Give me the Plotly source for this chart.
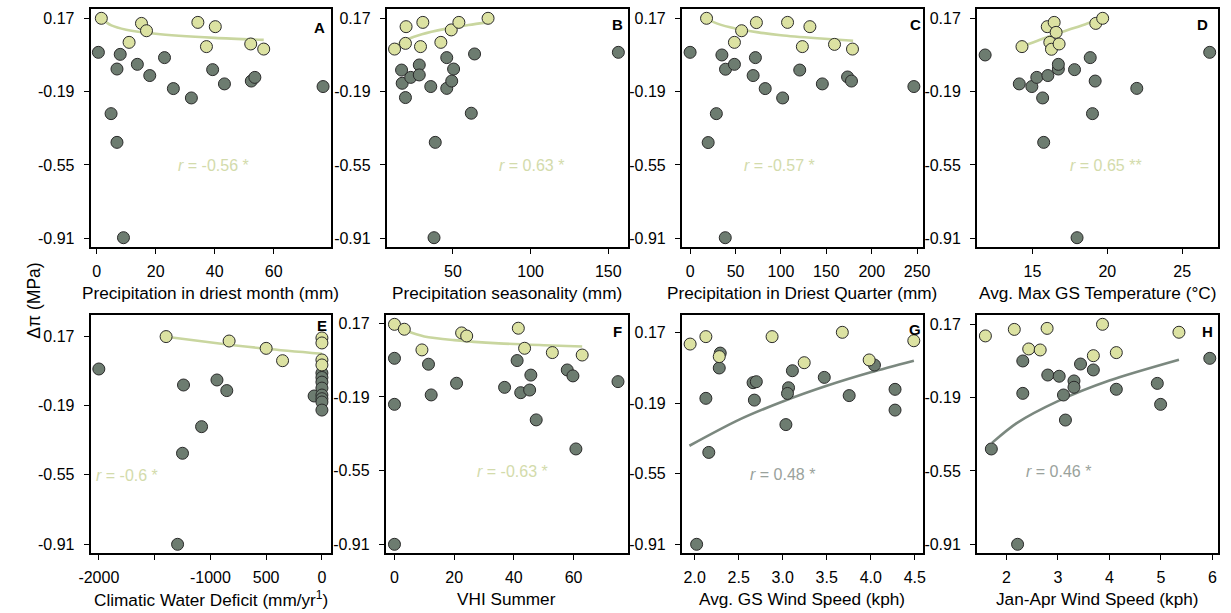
import plotly.graph_objects as go

W, H = 1231, 613

# ---------------- data: Δπ (MPa) against eight site variables ----------------
# light = group 1 (fitted in A–F), dark = group 2 (fitted in G–H)

# A: precipitation in driest month (mm)
a_light_x = [1.6, 15.2, 16.9, 11.0, 34.3, 40.2, 37.2, 52.2, 56.6]
a_light_y = [0.170, 0.145, 0.109, 0.052, 0.150, 0.129, 0.031, 0.044, 0.019]
a_dark_x = [0.6, 8.0, 6.9, 13.8, 18.0, 23.0, 26.0, 32.1, 39.3, 43.3, 52.4, 53.6, 76.7, 4.9, 6.9, 9.1]
a_dark_y = [0.003, -0.007, -0.079, -0.056, -0.111, -0.023, -0.175, -0.221, -0.082, -0.152,
            -0.138, -0.120, -0.165, -0.298, -0.439, -0.907]
a_trend_x = [1.6, 5, 10, 20, 40, 56.6]
a_trend_y = [0.167, 0.135, 0.114, 0.094, 0.074, 0.064]
a_label = "<i>r</i> = -0.56 *"

# B: precipitation seasonality (mm)
b_light_x = [12.4, 19.8, 19.4, 30.6, 29.1, 42.2, 48.9, 53.8, 72.6]
b_light_y = [0.019, 0.129, 0.047, 0.150, 0.031, 0.052, 0.113, 0.150, 0.170]
b_dark_x = [16.9, 17.3, 19.4, 22.8, 28.3, 28.3, 35.7, 46.0, 46.0, 50.4, 49.2, 63.9, 61.8, 38.6, 37.8, 156.5]
b_dark_y = [-0.084, -0.149, -0.219, -0.120, -0.059, -0.108, -0.165, -0.174, -0.023, -0.079,
            -0.138, -0.005, -0.296, -0.439, -0.907, 0.003]
b_trend_x = [12.4, 20, 30, 45, 60, 72.6]
b_trend_y = [0.034, 0.065, 0.092, 0.118, 0.137, 0.150]
b_label = "<i>r</i> = 0.63 *"

# C: precipitation in driest quarter (mm)
c_light_x = [18.1, 56.7, 48.8, 73.0, 107.3, 131.9, 123.6, 159.0, 178.8]
c_light_y = [0.170, 0.109, 0.052, 0.149, 0.150, 0.129, 0.031, 0.042, 0.019]
c_dark_x = [0.0, 35.0, 39.0, 48.8, 71.9, 69.4, 82.7, 101.9, 120.7, 145.6, 173.4, 177.7, 246.4, 28.9, 19.9, 38.7]
c_dark_y = [0.003, -0.010, -0.080, -0.056, -0.023, -0.111, -0.175, -0.221, -0.084, -0.152,
            -0.118, -0.138, -0.165, -0.298, -0.440, -0.907]
c_trend_x = [18.1, 30, 50, 75, 100, 140, 179.5]
c_trend_y = [0.167, 0.144, 0.120, 0.101, 0.087, 0.072, 0.060]
c_label = "<i>r</i> = -0.57 *"

# D: average maximum growing-season temperature (°C)
d_light_x = [14.3, 15.99, 16.45, 16.58, 16.16, 16.27, 16.78, 19.23, 19.69]
d_light_y = [0.031, 0.129, 0.150, 0.101, 0.052, 0.018, 0.044, 0.145, 0.170]
d_dark_x = [11.84, 14.12, 14.96, 15.29, 16.03, 15.68, 16.73, 16.73, 17.81, 18.86, 19.19, 21.97,
            19.01, 15.75, 17.98, 26.84]
d_dark_y = [-0.010, -0.152, -0.165, -0.120, -0.111, -0.221, -0.079, -0.056, -0.082, -0.023,
            -0.138, -0.174, -0.298, -0.439, -0.907, 0.003]
d_trend_x = [14.3, 15.5, 17.0, 18.5, 19.69]
d_trend_y = [0.031, 0.065, 0.104, 0.140, 0.170]
d_label = "<i>r</i> = 0.65 **"

# E: climatic water deficit (mm/yr)
e_light_x = [-1397, -832, -500, -353, 0, 0, 0, 0]
e_light_y = [0.167, 0.144, 0.106, 0.042, 0.160, 0.134, 0.046, 0.020]
e_dark_x = [-2000, -1241, -941, -853, -1079, -1250, -1294, -70, 0, 0, 0, 0, 0, 0, 0, 0]
e_dark_y = [-0.001, -0.084, -0.058, -0.113, -0.300, -0.438, -0.910, -0.141,
            -0.022, -0.045, -0.069, -0.100, -0.136, -0.155, -0.172, -0.214]
e_trend_x = [-1397, -956, -500, 0]
e_trend_y = [0.166, 0.134, 0.104, 0.078]
e_label = "<i>r</i> = -0.6 *"

# F: VHI summer
f_light_x = [0.0, 3.3, 22.5, 24.2, 9.2, 41.5, 43.6, 52.9, 62.9]
f_light_y = [0.165, 0.141, 0.123, 0.108, 0.040, 0.146, 0.048, 0.027, 0.015]
f_dark_x = [0.0, 0.0, 0.0, 11.4, 12.3, 20.8, 36.9, 41.1, 42.3, 45.3, 45.7, 47.5, 57.9, 59.8, 60.8, 74.9]
f_dark_y = [-0.001, -0.226, -0.910, -0.030, -0.180, -0.123, -0.143, -0.012, -0.169, -0.156,
            -0.083, -0.302, -0.058, -0.087, -0.444, -0.115]
f_trend_x = [3.3, 10, 20, 35, 50, 62.9]
f_trend_y = [0.136, 0.106, 0.088, 0.072, 0.063, 0.057]
f_label = "<i>r</i> = -0.63 *"

# G: average growing-season wind speed (kph)
g_light_x = [1.948, 2.127, 2.879, 3.677, 3.244, 2.279, 3.982, 4.489]
g_light_y = [0.112, 0.150, 0.150, 0.172, 0.017, 0.048, 0.031, 0.129]
g_dark_x = [2.290, 2.279, 2.127, 2.160, 2.022, 2.663, 2.700, 2.678, 3.066, 3.054, 3.110, 3.036,
            3.472, 3.755, 4.042, 4.276, 4.276]
g_dark_y = [0.066, -0.010, -0.165, -0.441, -0.910, -0.085, -0.080, -0.174, -0.111, -0.140,
            -0.024, -0.299, -0.058, -0.151, 0.005, -0.119, -0.225]
g_trend_x = [1.94, 2.5, 3.0, 3.5, 4.0, 4.49]
g_trend_y = [-0.407, -0.275, -0.181, -0.101, -0.032, 0.027]
g_label = "<i>r</i> = 0.48 *"

# H: January–April wind speed (kph)
h_light_x = [1.592, 2.153, 2.790, 3.866, 5.350, 2.433, 2.656, 3.688, 4.134]
h_light_y = [0.113, 0.145, 0.150, 0.170, 0.131, 0.049, 0.044, 0.016, 0.031]
h_dark_x = [2.318, 2.318, 2.803, 3.025, 3.108, 3.312, 3.312, 3.439, 3.688, 3.146, 4.134, 4.930,
            4.994, 5.949, 1.707, 2.217]
h_dark_y = [-0.010, -0.169, -0.079, -0.085, -0.177, -0.108, -0.139, -0.025, -0.054, -0.300,
            -0.149, -0.120, -0.223, 0.003, -0.442, -0.910]
h_trend_x = [1.72, 2.2, 3.0, 4.0, 5.35]
h_trend_y = [-0.412, -0.315, -0.207, -0.106, -0.004]
h_label = "<i>r</i> = 0.46 *"

# y tick labels shared by all panels
y_tick_vals = [0.17, -0.19, -0.55, -0.91]
y_tick_text = ["0.17", "-0.19", "-0.55", "-0.91"]

# ---------------- styling ----------------
DARK_FILL = "#6d7c70"
LIGHT_FILL = "#dce2a2"
EDGE = "#2a2a2a"
LIGHT_LINE = "#c9d69f"
LIGHT_TEXT = "#d3dbab"
GREY_LINE = "#7b887f"
GREY_TEXT = "#9aa29c"
FONT = "Liberation Sans, Arial, sans-serif"

panels = [
    dict(letter="A", lx=a_light_x, ly=a_light_y, dx=a_dark_x, dy=a_dark_y, tx=a_trend_x, ty=a_trend_y,
         label=a_label, lab_xy=(39.7, -0.553), line=LIGHT_LINE, txt=LIGHT_TEXT,
         xpx=(80, 324), ypx=(9, 247), xr=[-2, 79.3], yr=[-0.9527, 0.2157],
         xt=[0, 20, 40, 60], xtt=None, title="Precipitation in driest month (mm)", let_xy=(313, 27)),
    dict(letter="B", lx=b_light_x, ly=b_light_y, dx=b_dark_x, dy=b_dark_y, tx=b_trend_x, ty=b_trend_y,
         label=b_label, lab_xy=(100.6, -0.553), line=LIGHT_LINE, txt=LIGHT_TEXT,
         xpx=(381, 626), ypx=(9, 247), xr=[7.4, 162.6], yr=[-0.9527, 0.2157],
         xt=[50, 100, 150], xtt=None, title="Precipitation seasonality (mm)", let_xy=(615, 25)),
    dict(letter="C", lx=c_light_x, ly=c_light_y, dx=c_dark_x, dy=c_dark_y, tx=c_trend_x, ty=c_trend_y,
         label=c_label, lab_xy=(98.3, -0.553), line=LIGHT_LINE, txt=LIGHT_TEXT,
         xpx=(681, 926), ypx=(9, 247), xr=[-9, 256.4], yr=[-0.9527, 0.2157],
         xt=[0, 50, 100, 150, 200, 250], xtt=None, title="Precipitation in Driest Quarter (mm)", let_xy=(918, 25)),
    dict(letter="D", lx=d_light_x, ly=d_light_y, dx=d_dark_x, dy=d_dark_y, tx=d_trend_x, ty=d_trend_y,
         label=d_label, lab_xy=(19.9, -0.553), line=LIGHT_LINE, txt=LIGHT_TEXT,
         xpx=(981, 1226), ypx=(9, 247), xr=[11.3, 27.4], yr=[-0.9527, 0.2157],
         xt=[15, 20, 25], xtt=None, title="Avg. Max GS Temperature (°C)", let_xy=(1210, 25)),
    dict(letter="E", lx=e_light_x, ly=e_light_y, dx=e_dark_x, dy=e_dark_y, tx=e_trend_x, ty=e_trend_y,
         label=e_label, lab_xy=(-1750, -0.554), line=LIGHT_LINE, txt=LIGHT_TEXT,
         xpx=(80, 324), ypx=(315, 553), xr=[-2073, 79], yr=[-0.955, 0.2789],
         xt=[-2000, -1500, -1000, -500, 0], xtt=["-2000", " ", "-1000", "500", "0"],
         title="Climatic Water Deficit (mm/yr<sup>1</sup>)", let_xy=(315, 325)),
    dict(letter="F", lx=f_light_x, ly=f_light_y, dx=f_dark_x, dy=f_dark_y, tx=f_trend_x, ty=f_trend_y,
         label=f_label, lab_xy=(39.5, -0.555), line=LIGHT_LINE, txt=LIGHT_TEXT,
         xpx=(380, 626), ypx=(315, 553), xr=[-2.9, 78.2], yr=[-0.9525, 0.2106],
         xt=[0, 20, 40, 60], xtt=None, title="VHI Summer", let_xy=(615, 331)),
    dict(letter="G", lx=g_light_x, ly=g_light_y, dx=g_dark_x, dy=g_dark_y, tx=g_trend_x, ty=g_trend_y,
         label=g_label, lab_xy=(3.0, -0.553), line=GREY_LINE, txt=GREY_TEXT,
         xpx=(681, 926), ypx=(315, 553), xr=[1.855, 4.593], yr=[-0.9544, 0.2604],
         xt=[2.0, 2.5, 3.0, 3.5, 4.0, 4.5], xtt=["2.0", "2.5", "3.0", "3.5", "4.0", "4.5"],
         title="Avg. GS Wind Speed (kph)", let_xy=(918, 329)),
    dict(letter="H", lx=h_light_x, ly=h_light_y, dx=h_dark_x, dy=h_dark_y, tx=h_trend_x, ty=h_trend_y,
         label=h_label, lab_xy=(3.006, -0.553), line=GREY_LINE, txt=GREY_TEXT,
         xpx=(981, 1226), ypx=(315, 553), xr=[1.43, 6.11], yr=[-0.9527, 0.2157],
         xt=[2, 3, 4, 5, 6], xtt=None, title="Jan-Apr Wind Speed (kph)", let_xy=(1215, 331)),
]

fig = go.Figure()
annotations = []
layout_axes = {}

for i, p in enumerate(panels, start=1):
    sfx = "" if i == 1 else str(i)
    xa, ya = "x" + sfx, "y" + sfx

    # trend curve
    fig.add_trace(go.Scatter(x=p["tx"], y=p["ty"], mode="lines", xaxis=xa, yaxis=ya,
                             line=dict(color=p["line"], width=2.6, shape="spline", smoothing=0.8),
                             hoverinfo="skip", showlegend=False))
    # dark group
    fig.add_trace(go.Scatter(x=p["dx"], y=p["dy"], mode="markers", xaxis=xa, yaxis=ya,
                             marker=dict(size=12, color=DARK_FILL, line=dict(color=EDGE, width=1)),
                             showlegend=False))
    # light group
    fig.add_trace(go.Scatter(x=p["lx"], y=p["ly"], mode="markers", xaxis=xa, yaxis=ya,
                             marker=dict(size=12, color=LIGHT_FILL, line=dict(color=EDGE, width=1)),
                             showlegend=False))

    x0, x1 = p["xpx"]
    y0, y1 = p["ypx"]
    xdom = [x0 / W, x1 / W]
    ydom = [1 - y1 / H, 1 - y0 / H]

    xaxis = dict(domain=xdom, range=p["xr"], anchor=ya, showgrid=False, zeroline=False,
                 showline=True, linecolor="black", linewidth=2, mirror=True,
                 ticks="outside", ticklen=5, tickwidth=1, tickcolor="black",
                 tickvals=p["xt"], ticklabelstandoff=4,
                 tickfont=dict(family=FONT, size=16, color="black"))
    if p["xtt"] is not None:
        xaxis["ticktext"] = p["xtt"]
    yaxis = dict(domain=ydom, range=p["yr"], anchor=xa, showgrid=False, zeroline=False,
                 showline=True, linecolor="black", linewidth=2, mirror=True,
                 ticks="outside", ticklen=5, tickwidth=1, tickcolor="black",
                 tickvals=y_tick_vals, ticktext=y_tick_text, ticklabelstandoff=6,
                 tickfont=dict(family=FONT, size=16, color="black"))
    layout_axes["xaxis" + sfx] = xaxis
    layout_axes["yaxis" + sfx] = yaxis

    # correlation label
    annotations.append(dict(x=p["lab_xy"][0], y=p["lab_xy"][1], xref=xa, yref=ya, text=p["label"],
                            showarrow=False, xanchor="center", yanchor="middle",
                            font=dict(family=FONT, size=16, color=p["txt"])))
    # panel letter
    lx_, ly_ = p["let_xy"]
    annotations.append(dict(x=lx_ / W, y=1 - ly_ / H, xref="paper", yref="paper",
                            text="<b>" + p["letter"] + "</b>", showarrow=False,
                            xanchor="center", yanchor="middle",
                            font=dict(family=FONT, size=15, color="black")))
    # x-axis title
    ty_px = 293 if y0 < 100 else 599
    annotations.append(dict(x=(x0 + x1) / 2 / W, y=1 - ty_px / H, xref="paper", yref="paper",
                            text=p["title"], showarrow=False, xanchor="center", yanchor="middle",
                            font=dict(family=FONT, size=17.2, color="black")))

# shared y-axis title
annotations.append(dict(x=22 / W, y=1 - 301 / H, xref="paper", yref="paper",
                        text="Δπ (MPa)", textangle=-90, showarrow=False,
                        xanchor="center", yanchor="middle",
                        font=dict(family=FONT, size=17.5, color="black")))

fig.update_layout(width=W, height=H, margin=dict(l=0, r=0, t=0, b=0),
                  paper_bgcolor="white", plot_bgcolor="white",
                  annotations=annotations, showlegend=False, **layout_axes)

fig.write_html("out.html")
